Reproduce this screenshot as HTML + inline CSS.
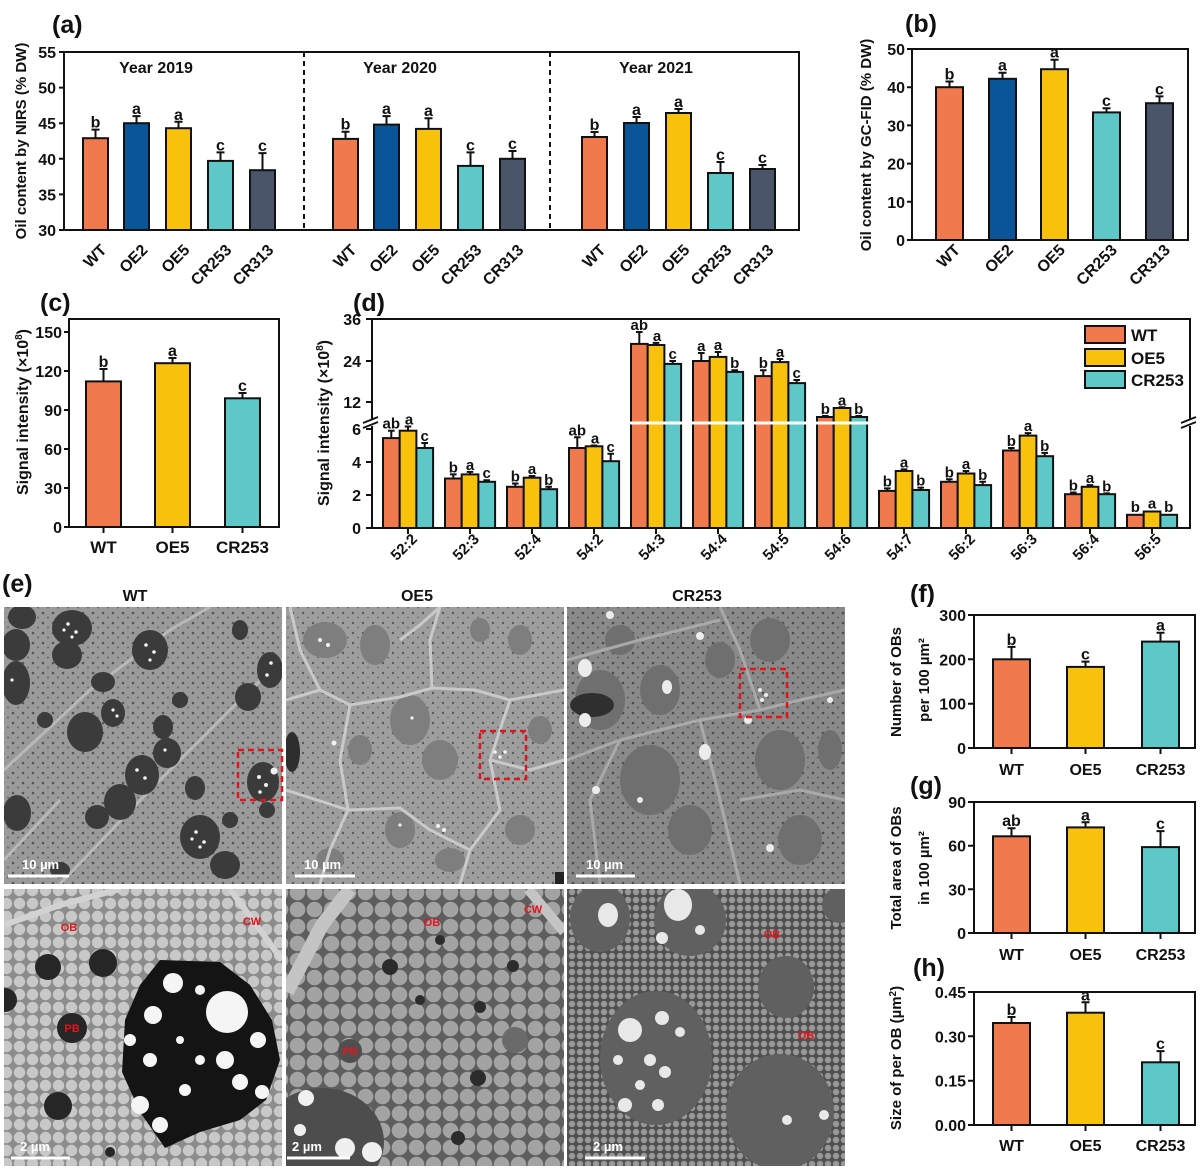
<!DOCTYPE html>
<html><head><meta charset="utf-8"><style>
html,body{margin:0;padding:0;background:#fff;}
svg{display:block;}
text{font-family:"Liberation Sans",Arial,sans-serif;font-weight:bold;fill:#111;}
.ax{fill:none;stroke:#111;stroke-width:2;}
.bar{stroke:#111;stroke-width:2;}
.eb{stroke:#111;stroke-width:2;fill:none;}
.wt{fill:#F07A4E}.oe2{fill:#0A5498}.oe5{fill:#F8C10C}.cr2{fill:#5EC8C8}.cr3{fill:#4A5569}
.rl{fill:#e3141c;font-size:11px;}
.sb{fill:#fff;font-size:13px;}
</style></head><body>
<svg width="1200" height="1169" viewBox="0 0 1200 1169" xmlns="http://www.w3.org/2000/svg">
<defs>
<clipPath id="k11"><rect x="4" y="607" width="278" height="277"/></clipPath>
<clipPath id="k12"><rect x="286" y="607" width="278" height="277"/></clipPath>
<clipPath id="k13"><rect x="567" y="607" width="278" height="277"/></clipPath>
<clipPath id="k21"><rect x="4" y="889" width="278" height="277"/></clipPath>
<clipPath id="k22"><rect x="286" y="889" width="278" height="277"/></clipPath>
<clipPath id="k23"><rect x="567" y="889" width="278" height="277"/></clipPath>
<pattern id="sp1" width="10" height="10" patternUnits="userSpaceOnUse"><rect width="10" height="10" fill="#9a9a9a"/><circle cx="3" cy="3" r="1.3" fill="#555"/><circle cx="8" cy="7.5" r="1" fill="#666"/></pattern>
<pattern id="sp2" width="10" height="10" patternUnits="userSpaceOnUse"><rect width="10" height="10" fill="#9e9e9e"/><circle cx="3" cy="3" r="1.2" fill="#5a5a5a"/><circle cx="8" cy="7.5" r="0.9" fill="#656565"/></pattern>
<pattern id="sp3" width="10" height="10" patternUnits="userSpaceOnUse"><rect width="10" height="10" fill="#8a8a8a"/><circle cx="3" cy="3" r="1.3" fill="#4c4c4c"/><circle cx="8" cy="7.5" r="1" fill="#5a5a5a"/></pattern>
<pattern id="pw" width="13" height="13" patternUnits="userSpaceOnUse"><rect width="13" height="13" fill="#8c8c8c"/><circle cx="6.5" cy="6.5" r="5.7" fill="#c8c8c8"/></pattern>
<pattern id="po" width="17" height="17" patternUnits="userSpaceOnUse"><rect width="17" height="17" fill="#5e5e5e"/><circle cx="8.5" cy="8.5" r="7.8" fill="#a3a3a3"/></pattern>
<pattern id="pc" width="8" height="8" patternUnits="userSpaceOnUse"><rect width="8" height="8" fill="#505050"/><circle cx="4" cy="4" r="3.2" fill="#989898"/></pattern>
</defs>

<!-- ================= (a) ================= -->
<text x="52" y="33" font-size="25">(a)</text>
<text transform="translate(26,141) rotate(-90)" text-anchor="middle" font-size="15">Oil content by NIRS (% DW)</text>
<path class="ax" d="M59,52H64M59,87.6H64M59,123.2H64M59,158.8H64M59,194.4H64M59,230H64"/>
<g font-size="16" text-anchor="end">
<text x="56" y="58">55</text><text x="56" y="93.6">50</text><text x="56" y="129.2">45</text>
<text x="56" y="164.8">40</text><text x="56" y="200.4">35</text><text x="56" y="236">30</text>
</g>
<path d="M304,52V230M550,52V230" stroke="#111" stroke-width="2" stroke-dasharray="5,4"/>
<g font-size="16" text-anchor="middle">
<text x="156" y="73">Year 2019</text><text x="400" y="73">Year 2020</text><text x="656" y="73">Year 2021</text>
</g>
<!-- G1 -->
<rect class="bar wt" x="83" y="138.2" width="25" height="91.8"/>
<rect class="bar oe2" x="124" y="123.2" width="25" height="106.8"/>
<rect class="bar oe5" x="166" y="128.2" width="25" height="101.8"/>
<rect class="bar cr2" x="208" y="160.9" width="25" height="69.1"/>
<rect class="bar cr3" x="250" y="170.2" width="25" height="59.8"/>
<path class="eb" d="M95.5,138.2V129.6M91.5,129.6H99.5M136.5,123.2V116.1M132.5,116.1H140.5M178.5,128.2V121.8M174.5,121.8H182.5M220.5,160.9V152.4M216.5,152.4H224.5M262.5,170.2V153.1M258.5,153.1H266.5"/>
<!-- G2 -->
<rect class="bar wt" x="333" y="138.9" width="25" height="91.1"/>
<rect class="bar oe2" x="374" y="124.6" width="25" height="105.4"/>
<rect class="bar oe5" x="416" y="128.9" width="25" height="101.1"/>
<rect class="bar cr2" x="458" y="165.9" width="25" height="64.1"/>
<rect class="bar cr3" x="500" y="158.8" width="25" height="71.2"/>
<path class="eb" d="M345.5,138.9V131.7M341.5,131.7H349.5M386.5,124.6V116.1M382.5,116.1H390.5M428.5,128.9V118.2M424.5,118.2H432.5M470.5,165.9V152.4M466.5,152.4H474.5M512.5,158.8V151M508.5,151H516.5"/>
<!-- G3 -->
<rect class="bar wt" x="582" y="137" width="25" height="93"/>
<rect class="bar oe2" x="624" y="123" width="25" height="107"/>
<rect class="bar oe5" x="666" y="113" width="25" height="117"/>
<rect class="bar cr2" x="708" y="173" width="25" height="57"/>
<rect class="bar cr3" x="750" y="169" width="25" height="61"/>
<path class="eb" d="M594.5,137V132M590.5,132H598.5M636.5,123V117M632.5,117H640.5M678.5,113V109M674.5,109H682.5M720.5,173V162M716.5,162H724.5M762.5,169V165M758.5,165H766.5"/>
<g font-size="16" text-anchor="middle">
<text x="95.5" y="127.6">b</text><text x="136.5" y="114.1">a</text><text x="178.5" y="119.8">a</text><text x="220.5" y="150.4">c</text><text x="262.5" y="151.1">c</text>
<text x="345.5" y="129.7">b</text><text x="386.5" y="114.1">a</text><text x="428.5" y="116.2">a</text><text x="470.5" y="150.4">c</text><text x="512.5" y="149">c</text>
<text x="594.5" y="130">b</text><text x="636.5" y="115">a</text><text x="678.5" y="107">a</text><text x="720.5" y="160">c</text><text x="762.5" y="163">c</text>
</g>
<rect class="ax" x="64" y="52" width="735" height="178"/>
<g font-size="16" text-anchor="end">
<text transform="translate(107.5,251) rotate(-45)">WT</text>
<text transform="translate(148.5,251) rotate(-45)">OE2</text>
<text transform="translate(190.5,251) rotate(-45)">OE5</text>
<text transform="translate(232.5,251) rotate(-45)">CR253</text>
<text transform="translate(274.5,251) rotate(-45)">CR313</text>
<text transform="translate(357.5,251) rotate(-45)">WT</text>
<text transform="translate(398.5,251) rotate(-45)">OE2</text>
<text transform="translate(440.5,251) rotate(-45)">OE5</text>
<text transform="translate(482.5,251) rotate(-45)">CR253</text>
<text transform="translate(524.5,251) rotate(-45)">CR313</text>
<text transform="translate(606.5,251) rotate(-45)">WT</text>
<text transform="translate(648.5,251) rotate(-45)">OE2</text>
<text transform="translate(690.5,251) rotate(-45)">OE5</text>
<text transform="translate(732.5,251) rotate(-45)">CR253</text>
<text transform="translate(774.5,251) rotate(-45)">CR313</text>
</g>

<!-- ================= (b) ================= -->
<text x="905" y="32" font-size="25">(b)</text>
<text transform="translate(871,145) rotate(-90)" text-anchor="middle" font-size="15">Oil content by GC-FID (% DW)</text>
<path class="ax" d="M907,49H912M907,87.2H912M907,125.4H912M907,163.6H912M907,201.8H912M907,240H912"/>
<g font-size="16" text-anchor="end">
<text x="905" y="55">50</text><text x="905" y="93.2">40</text><text x="905" y="131.4">30</text>
<text x="905" y="169.6">20</text><text x="905" y="207.8">10</text><text x="905" y="246">0</text>
</g>
<rect class="bar wt" x="936" y="87.2" width="27" height="152.8"/>
<rect class="bar oe2" x="989" y="78.8" width="27" height="161.2"/>
<rect class="bar oe5" x="1041" y="69.2" width="27" height="170.8"/>
<rect class="bar cr2" x="1093" y="112.4" width="27" height="127.6"/>
<rect class="bar cr3" x="1146" y="103.2" width="27" height="136.8"/>
<path class="eb" d="M949.5,87.2V81.5M945.5,81.5H953.5M1002.5,78.8V72.7M998.5,72.7H1006.5M1054.5,69.2V59.7M1050.5,59.7H1058.5M1106.5,112.4V108.2M1102.5,108.2H1110.5M1159.5,103.2V96.4M1155.5,96.4H1163.5"/>
<g font-size="16" text-anchor="middle">
<text x="949.5" y="79.5">b</text><text x="1002.5" y="70.7">a</text><text x="1054.5" y="57.7">a</text><text x="1106.5" y="106.2">c</text><text x="1159.5" y="94.4">c</text>
</g>
<rect class="ax" x="912" y="49" width="276" height="191"/>
<g font-size="16" text-anchor="end">
<text transform="translate(961,251) rotate(-45)">WT</text>
<text transform="translate(1014,251) rotate(-45)">OE2</text>
<text transform="translate(1066,251) rotate(-45)">OE5</text>
<text transform="translate(1118,251) rotate(-45)">CR253</text>
<text transform="translate(1171,251) rotate(-45)">CR313</text>
</g>

<!-- ================= (c) ================= -->
<text x="40" y="311" font-size="25">(c)</text>
<text transform="translate(28,412) rotate(-90)" text-anchor="middle" font-size="16">Signal intensity (×10<tspan dy="-6" font-size="10">8</tspan><tspan dy="6">)</tspan></text>
<path class="ax" d="M64,332H69M64,371H69M64,410H69M64,449H69M64,488H69M64,527H69M103.5,527V533M172.5,527V533M242.5,527V533"/>
<g font-size="16" text-anchor="end">
<text x="62" y="338">150</text><text x="62" y="377">120</text><text x="62" y="416">90</text>
<text x="62" y="455">60</text><text x="62" y="494">30</text><text x="62" y="533">0</text>
</g>
<rect class="bar wt" x="86" y="381.4" width="35" height="145.6"/>
<rect class="bar oe5" x="155" y="363.2" width="35" height="163.8"/>
<rect class="bar cr2" x="225" y="398.3" width="35" height="128.7"/>
<path class="eb" d="M103.5,381.4V369M99.5,369H107.5M172.5,363.2V358M168.5,358H176.5M242.5,398.3V393M238.5,393H246.5"/>
<g font-size="16" text-anchor="middle">
<text x="103.5" y="367">b</text><text x="172.5" y="356">a</text><text x="242.5" y="391">c</text>
</g>
<rect class="ax" x="69" y="319" width="210" height="208"/>
<g font-size="17" text-anchor="middle">
<text x="103.5" y="553">WT</text><text x="172.5" y="553">OE5</text><text x="242.5" y="553">CR253</text>
</g>

<!-- ================= (d) ================= -->
<text x="353" y="311" font-size="25">(d)</text>
<text transform="translate(329,423) rotate(-90)" text-anchor="middle" font-size="16">Signal intensity (×10<tspan dy="-6" font-size="10">8</tspan><tspan dy="6">)</tspan></text>
<path class="ax" d="M366,319H372M366,361H372M366,402H372M366,429H372M366,462H372M366,495H372M366,528H372"/>
<g font-size="16" text-anchor="end">
<text x="361" y="325">36</text><text x="361" y="367">24</text><text x="361" y="408">12</text>
<text x="361" y="435">6</text><text x="361" y="468">4</text><text x="361" y="501">2</text><text x="361" y="534">0</text>
</g>
<g class="bar">
<rect class="wt" x="383" y="438.1" width="16.7" height="89.9"/><rect class="oe5" x="399.7" y="430.7" width="16.7" height="97.3"/><rect class="cr2" x="416.4" y="448" width="16.7" height="80"/>
<rect class="wt" x="445" y="478.5" width="16.7" height="49.5"/><rect class="oe5" x="461.7" y="474.4" width="16.7" height="53.6"/><rect class="cr2" x="478.4" y="481.8" width="16.7" height="46.2"/>
<rect class="wt" x="507" y="486.8" width="16.7" height="41.2"/><rect class="oe5" x="523.7" y="477.7" width="16.7" height="50.3"/><rect class="cr2" x="540.4" y="489.2" width="16.7" height="38.8"/>
<rect class="wt" x="569" y="448" width="16.7" height="80"/><rect class="oe5" x="585.7" y="446.3" width="16.7" height="81.7"/><rect class="cr2" x="602.4" y="461.2" width="16.7" height="66.8"/>
<rect class="wt" x="631" y="343.9" width="16.7" height="184.1"/><rect class="oe5" x="647.7" y="345" width="16.7" height="183"/><rect class="cr2" x="664.4" y="363.9" width="16.7" height="164.1"/>
<rect class="wt" x="693" y="361" width="16.7" height="167"/><rect class="oe5" x="709.7" y="356.9" width="16.7" height="171.1"/><rect class="cr2" x="726.4" y="371.9" width="16.7" height="156.1"/>
<rect class="wt" x="755" y="376.1" width="16.7" height="151.9"/><rect class="oe5" x="771.7" y="362.1" width="16.7" height="165.9"/><rect class="cr2" x="788.4" y="383.1" width="16.7" height="144.9"/>
<rect class="wt" x="817" y="417" width="16.7" height="111"/><rect class="oe5" x="833.7" y="408" width="16.7" height="120"/><rect class="cr2" x="850.4" y="417" width="16.7" height="111"/>
<rect class="wt" x="879" y="490.9" width="16.7" height="37.1"/><rect class="oe5" x="895.7" y="471" width="16.7" height="57"/><rect class="cr2" x="912.4" y="490" width="16.7" height="38"/>
<rect class="wt" x="941" y="481.8" width="16.7" height="46.2"/><rect class="oe5" x="957.7" y="473.5" width="16.7" height="54.5"/><rect class="cr2" x="974.4" y="485.1" width="16.7" height="42.9"/>
<rect class="wt" x="1003" y="450.5" width="16.7" height="77.5"/><rect class="oe5" x="1019.7" y="435.6" width="16.7" height="92.4"/><rect class="cr2" x="1036.4" y="456.2" width="16.7" height="71.8"/>
<rect class="wt" x="1065" y="494.2" width="16.7" height="33.8"/><rect class="oe5" x="1081.7" y="486.8" width="16.7" height="41.2"/><rect class="cr2" x="1098.4" y="494.2" width="16.7" height="33.8"/>
<rect class="wt" x="1127" y="514.8" width="16.7" height="13.2"/><rect class="oe5" x="1143.7" y="511.5" width="16.7" height="16.5"/><rect class="cr2" x="1160.4" y="514.8" width="16.7" height="13.2"/>
</g>
<path class="eb" d="
M391.3,438.1V430.7M388,430.7H394.6M408,430.7V426.5M404.7,426.5H411.3M424.7,448V443M421.4,443H428
M453.3,478.5V474.4M450,474.4H456.6M470,474.4V471.9M466.7,471.9H473.3M486.7,481.8V480.2M483.4,480.2H490
M515.3,486.8V483.5M512,483.5H518.6M532,477.7V476M528.7,476H535.3M548.7,489.2V486.8M545.4,486.8H552
M577.3,448V437.3M574,437.3H580.6M594,446.3V445.5M590.7,445.5H597.3M610.7,461.2V453.8M607.4,453.8H614
M639.3,343.9V332M636,332H642.6M656,345V342.9M652.7,342.9H659.3M672.7,363.9V361M669.4,361H676
M701.3,361V353M698,353H704.6M718,356.9V352M714.7,352H721.3M734.7,371.9V370.2M731.4,370.2H738
M763.3,376.1V370.2M760,370.2H766.6M780,362.1V359M776.7,359H783.3M796.7,383.1V380M793.4,380H800
M825.3,417V416M822,416H828.6M842,408V407.3M838.7,407.3H845.3M858.7,417V416M855.4,416H862
M887.3,490.9V488.4M884,488.4H890.6M904,471V469.4M900.7,469.4H907.3M920.7,490V487.6M917.4,487.6H924
M949.3,481.8V479.3M946,479.3H952.6M966,473.5V471M962.7,471H969.3M982.7,485.1V481.8M979.4,481.8H986
M1011.3,450.5V448M1008,448H1014.6M1028,435.6V433.1M1024.7,433.1H1031.3M1044.7,456.2V452.9M1041.4,452.9H1048
M1073.3,494.2V492.5M1070,492.5H1076.6M1090,486.8V485.1M1086.7,485.1H1093.3M1106.7,494.2V493.4M1103.4,493.4H1110
"/>
<line x1="373" y1="423" x2="1189" y2="423" stroke="#fff" stroke-width="3"/>
<g font-size="15" text-anchor="middle">
<text x="391.3" y="428.7">ab</text><text x="409" y="424.5">a</text><text x="424.7" y="441">c</text>
<text x="453.3" y="472.4">b</text><text x="470" y="469.9">a</text><text x="486.7" y="478.2">c</text>
<text x="515.3" y="481.5">b</text><text x="532" y="474">a</text><text x="548.7" y="484.8">b</text>
<text x="577.3" y="435.3">ab</text><text x="595" y="443.5">a</text><text x="610.7" y="451.8">c</text>
<text x="639.3" y="330">ab</text><text x="657" y="340.9">a</text><text x="672.7" y="359">c</text>
<text x="701.3" y="351">a</text><text x="718" y="350">a</text><text x="734.7" y="368.2">b</text>
<text x="763.3" y="368.2">b</text><text x="780" y="357">a</text><text x="796.7" y="378">c</text>
<text x="825.3" y="414">b</text><text x="842" y="405.3">a</text><text x="858.7" y="414">b</text>
<text x="887.3" y="486.4">b</text><text x="904" y="467.4">a</text><text x="920.7" y="485.6">b</text>
<text x="949.3" y="477.3">b</text><text x="966" y="469">a</text><text x="982.7" y="479.8">b</text>
<text x="1011.3" y="446">b</text><text x="1028" y="431.1">a</text><text x="1044.7" y="450.9">b</text>
<text x="1073.3" y="490.5">b</text><text x="1090" y="483.1">a</text><text x="1106.7" y="491.4">b</text>
<text x="1135.3" y="512">b</text><text x="1152" y="508.7">a</text><text x="1168.7" y="512">b</text>
</g>
<rect class="ax" x="372" y="319" width="818" height="209"/>
<path class="ax" d="M408,528V534M470,528V534M532,528V534M594,528V534M656,528V534M718,528V534M780,528V534M842,528V534M904,528V534M966,528V534M1028,528V534M1090,528V534M1152,528V534"/>
<rect x="367" y="419" width="10" height="7" fill="#fff"/>
<path d="M363,423L378,417M363,428L378,422" stroke="#111" stroke-width="1.8"/>
<rect x="1185" y="419" width="10" height="7" fill="#fff"/>
<path d="M1181,423L1196,417M1181,428L1196,422" stroke="#111" stroke-width="1.8"/>
<rect class="bar wt" x="1085" y="326" width="40" height="17"/>
<rect class="bar oe5" x="1085" y="349" width="40" height="17"/>
<rect class="bar cr2" x="1085" y="371" width="40" height="17"/>
<g font-size="17"><text x="1131" y="341">WT</text><text x="1131" y="364">OE5</text><text x="1131" y="386">CR253</text></g>
<g font-size="15" text-anchor="end">
<text transform="translate(418,540) rotate(-45)">52:2</text>
<text transform="translate(480,540) rotate(-45)">52:3</text>
<text transform="translate(542,540) rotate(-45)">52:4</text>
<text transform="translate(604,540) rotate(-45)">54:2</text>
<text transform="translate(666,540) rotate(-45)">54:3</text>
<text transform="translate(728,540) rotate(-45)">54:4</text>
<text transform="translate(790,540) rotate(-45)">54:5</text>
<text transform="translate(852,540) rotate(-45)">54:6</text>
<text transform="translate(914,540) rotate(-45)">54:7</text>
<text transform="translate(976,540) rotate(-45)">56:2</text>
<text transform="translate(1038,540) rotate(-45)">56:3</text>
<text transform="translate(1100,540) rotate(-45)">56:4</text>
<text transform="translate(1162,540) rotate(-45)">56:5</text>
</g>

<!-- ================= (e) ================= -->
<text x="2" y="592" font-size="25">(e)</text>
<g font-size="16" text-anchor="middle"><text x="135" y="601">WT</text><text x="417" y="601">OE5</text><text x="697" y="601">CR253</text></g>

<g clip-path="url(#k11)">
<rect x="4" y="607" width="278" height="277" fill="url(#sp1)"/>
<path d="M4,770L90,690L170,630L210,607M60,884L150,790L240,700L282,660M4,860L60,800" stroke="#b8b8b8" stroke-width="3" fill="none"/>
<g fill="#3b3b3b">
<ellipse cx="22" cy="617" rx="14" ry="12"/><ellipse cx="72" cy="628" rx="20" ry="18"/><ellipse cx="16" cy="645" rx="14" ry="16"/>
<ellipse cx="67" cy="655" rx="15" ry="14"/><ellipse cx="150" cy="650" rx="18" ry="20"/><ellipse cx="16" cy="683" rx="14" ry="22"/>
<ellipse cx="103" cy="682" rx="12" ry="10"/><ellipse cx="113" cy="713" rx="12" ry="14"/><ellipse cx="85" cy="732" rx="18" ry="20"/>
<ellipse cx="163" cy="727" rx="10" ry="12"/><ellipse cx="142" cy="775" rx="17" ry="20"/><ellipse cx="167" cy="753" rx="14" ry="15"/>
<ellipse cx="120" cy="802" rx="16" ry="18"/><ellipse cx="97" cy="817" rx="12" ry="12"/><ellipse cx="200" cy="837" rx="20" ry="22"/>
<ellipse cx="225" cy="865" rx="15" ry="14"/><ellipse cx="263" cy="782" rx="16" ry="20"/><ellipse cx="270" cy="670" rx="13" ry="18"/>
<ellipse cx="248" cy="697" rx="13" ry="14"/><ellipse cx="17" cy="813" rx="14" ry="18"/><ellipse cx="267" cy="810" rx="8" ry="8"/>
<ellipse cx="195" cy="788" rx="10" ry="12"/><ellipse cx="180" cy="700" rx="8" ry="8"/><ellipse cx="45" cy="720" rx="8" ry="8"/>
<ellipse cx="240" cy="630" rx="8" ry="10"/><ellipse cx="60" cy="870" rx="10" ry="8"/><ellipse cx="230" cy="820" rx="8" ry="8"/>
</g>
<g fill="#f2f2f2">
<circle cx="68" cy="624" r="1.8"/><circle cx="76" cy="632" r="1.8"/><circle cx="72" cy="637" r="1.6"/><circle cx="64" cy="630" r="1.6"/>
<circle cx="146" cy="645" r="1.8"/><circle cx="154" cy="652" r="1.8"/><circle cx="150" cy="660" r="1.6"/>
<circle cx="113" cy="710" r="1.6"/><circle cx="117" cy="716" r="1.6"/><circle cx="137" cy="770" r="1.8"/><circle cx="145" cy="778" r="1.8"/>
<circle cx="196" cy="832" r="1.8"/><circle cx="204" cy="842" r="1.8"/><circle cx="200" cy="847" r="1.6"/><circle cx="192" cy="839" r="1.6"/>
<circle cx="259" cy="777" r="2"/><circle cx="266" cy="785" r="2"/><circle cx="274" cy="771" r="3.5"/><circle cx="260" cy="792" r="1.8"/>
<circle cx="271" cy="663" r="1.8"/><circle cx="267" cy="675" r="1.8"/><circle cx="165" cy="750" r="1.6"/><circle cx="12" cy="680" r="1.6"/>
</g>
</g>
<g clip-path="url(#k12)">
<rect x="286" y="607" width="278" height="277" fill="url(#sp2)"/>
<g fill="#7e7e7e">
<ellipse cx="325" cy="640" rx="22" ry="18"/><ellipse cx="375" cy="645" rx="15" ry="20"/><ellipse cx="410" cy="720" rx="20" ry="25"/>
<ellipse cx="360" cy="750" rx="12" ry="15"/><ellipse cx="440" cy="760" rx="18" ry="20"/><ellipse cx="400" cy="830" rx="15" ry="18"/>
<ellipse cx="450" cy="860" rx="15" ry="12"/><ellipse cx="520" cy="640" rx="12" ry="15"/><ellipse cx="540" cy="730" rx="12" ry="14"/>
<ellipse cx="330" cy="860" rx="14" ry="12"/><ellipse cx="520" cy="830" rx="15" ry="15"/><ellipse cx="480" cy="630" rx="10" ry="12"/>
</g>
<path d="M286,700L320,690L350,705L400,697L432,688L475,690L510,700L564,690M350,705L340,760L348,810L330,850L320,884M432,688L430,640L440,607M510,700L490,760L500,810L470,850L460,884M348,810L400,808L430,830L470,850M490,760L530,770L564,760M320,690L300,650L290,607M286,790L348,810M440,607L420,625L400,640" stroke="#c9c9c9" stroke-width="3" fill="none"/>
<ellipse cx="292" cy="752" rx="8" ry="20" fill="#2e2e2e"/>
<rect x="555" y="872" width="10" height="12" fill="#222"/>
<g fill="#f2f2f2">
<circle cx="320" cy="640" r="2"/><circle cx="328" cy="645" r="2"/><circle cx="412" cy="718" r="1.6"/><circle cx="495" cy="752" r="1.8"/>
<circle cx="500" cy="757" r="1.8"/><circle cx="505" cy="752" r="1.8"/><circle cx="438" cy="826" r="2"/><circle cx="444" cy="830" r="2"/>
<circle cx="334" cy="743" r="2.5"/><circle cx="400" cy="825" r="1.6"/>
</g>
</g>
<g clip-path="url(#k13)">
<rect x="567" y="607" width="278" height="277" fill="url(#sp3)"/>
<g fill="#6f6f6f">
<ellipse cx="600" cy="700" rx="25" ry="30"/><ellipse cx="660" cy="690" rx="20" ry="25"/><ellipse cx="650" cy="780" rx="30" ry="35"/>
<ellipse cx="690" cy="830" rx="22" ry="25"/><ellipse cx="780" cy="760" rx="25" ry="30"/><ellipse cx="800" cy="840" rx="22" ry="25"/>
<ellipse cx="770" cy="640" rx="20" ry="22"/><ellipse cx="620" cy="640" rx="15" ry="15"/><ellipse cx="720" cy="660" rx="15" ry="18"/>
<ellipse cx="830" cy="750" rx="12" ry="20"/>
</g>
<path d="M567,760L620,740L700,720L760,710L800,700L845,690M700,720L720,800L740,884M760,710L740,650L720,607M620,740L590,800L600,884M567,660L640,640L720,620M740,800L800,790L845,800" stroke="#a9a9a9" stroke-width="3" fill="none"/>
<ellipse cx="592" cy="705" rx="22" ry="12" fill="#2f2f2f"/>
<g fill="#ececec">
<ellipse cx="585" cy="668" rx="7" ry="9"/><ellipse cx="585" cy="720" rx="6" ry="7"/><ellipse cx="667" cy="687" rx="5" ry="7"/>
<ellipse cx="705" cy="752" rx="6" ry="8"/><circle cx="748" cy="720" r="4"/><circle cx="596" cy="790" r="4"/><circle cx="640" cy="800" r="3"/>
<circle cx="770" cy="848" r="4"/><circle cx="830" cy="700" r="3"/><circle cx="610" cy="615" r="4"/><circle cx="700" cy="636" r="4"/>
<circle cx="760" cy="690" r="2"/><circle cx="766" cy="695" r="2"/><circle cx="762" cy="700" r="2"/>
</g>
</g>
<g clip-path="url(#k21)">
<rect x="4" y="889" width="278" height="277" fill="url(#pw)"/>
<path d="M4,925L60,905L120,889M230,889L260,930L282,960" stroke="#d2d2d2" stroke-width="6" fill="none"/>
<g fill="#262626">
<circle cx="48" cy="967" r="13"/><circle cx="103" cy="963" r="14"/><circle cx="72" cy="1028" r="15"/>
<circle cx="58" cy="1106" r="14"/><circle cx="5" cy="1000" r="12"/><circle cx="110" cy="1152" r="5"/>
</g>
<path d="M160,960L220,962L250,985L272,1020L280,1060L266,1100L240,1120L200,1132L165,1148L140,1112L122,1072L125,1020L140,985Z" fill="#141414"/>
<g fill="#f5f5f5">
<circle cx="227" cy="1012" r="21"/><circle cx="173" cy="983" r="10"/><circle cx="153" cy="1015" r="9"/><circle cx="130" cy="1040" r="6"/>
<circle cx="150" cy="1060" r="7"/><circle cx="225" cy="1060" r="9"/><circle cx="240" cy="1082" r="8"/><circle cx="185" cy="1090" r="6"/>
<circle cx="140" cy="1105" r="9"/><circle cx="160" cy="1125" r="8"/><circle cx="200" cy="1060" r="5"/><circle cx="258" cy="1040" r="8"/>
<circle cx="262" cy="1092" r="7"/><circle cx="200" cy="990" r="5"/><circle cx="180" cy="1040" r="4"/>
</g>
<text class="rl" x="69" y="931" text-anchor="middle">OB</text>
<text class="rl" x="252" y="925" text-anchor="middle">CW</text>
<text class="rl" x="72" y="1032" text-anchor="middle">PB</text>
</g>
<g clip-path="url(#k22)">
<rect x="286" y="889" width="278" height="277" fill="url(#po)"/>
<path d="M287,992L322,925L350,889" stroke="#c4c4c4" stroke-width="14" fill="none"/>
<path d="M528,889L564,932" stroke="#c4c4c4" stroke-width="10" fill="none"/>
<ellipse cx="322" cy="1142" rx="62" ry="54" fill="#4d4d4d"/>
<g fill="#f0f0f0"><circle cx="306" cy="1098" r="8"/><circle cx="300" cy="1130" r="6"/><circle cx="345" cy="1148" r="10"/><circle cx="372" cy="1152" r="10"/></g>
<g fill="#2c2c2c"><circle cx="390" cy="967" r="8"/><circle cx="513" cy="966" r="6"/><circle cx="480" cy="1007" r="6"/><circle cx="478" cy="1078" r="8"/><circle cx="458" cy="1138" r="7"/><circle cx="420" cy="1000" r="5"/><circle cx="440" cy="940" r="5"/></g>
<circle cx="350" cy="1051" r="12" fill="#4f4f4f"/>
<circle cx="515" cy="1040" r="13" fill="#6a6a6a"/>
<text class="rl" x="432" y="926" text-anchor="middle">OB</text>
<text class="rl" x="533" y="913" text-anchor="middle">CW</text>
<text class="rl" x="350" y="1055" text-anchor="middle">PB</text>
</g>
<g clip-path="url(#k23)">
<rect x="567" y="889" width="278" height="277" fill="url(#pc)"/>
<g fill="#606060">
<ellipse cx="600" cy="918" rx="30" ry="34"/><ellipse cx="690" cy="920" rx="36" ry="36"/><ellipse cx="786" cy="987" rx="28" ry="31"/>
<ellipse cx="656" cy="1058" rx="56" ry="67"/><ellipse cx="780" cy="1112" rx="54" ry="58"/><ellipse cx="840" cy="905" rx="18" ry="18"/>
</g>
<g fill="#e8e8e8">
<ellipse cx="608" cy="915" rx="10" ry="12"/><ellipse cx="678" cy="905" rx="14" ry="16"/><circle cx="662" cy="938" r="6"/><circle cx="700" cy="930" r="5"/>
<circle cx="630" cy="1030" r="12"/><circle cx="662" cy="1018" r="7"/><circle cx="680" cy="1032" r="5"/><circle cx="650" cy="1060" r="6"/>
<circle cx="640" cy="1085" r="5"/><circle cx="665" cy="1072" r="6"/><circle cx="625" cy="1105" r="7"/><circle cx="658" cy="1105" r="6"/>
<circle cx="787" cy="1120" r="5"/><circle cx="824" cy="1115" r="5"/><circle cx="618" cy="1060" r="5"/>
</g>
<text class="rl" x="772" y="938" text-anchor="middle">OB</text>
<text class="rl" x="806" y="1039" text-anchor="middle">OB</text>
</g>
<g fill="none" stroke="#e3141c" stroke-width="2.5" stroke-dasharray="6,4">
<rect x="238" y="750" width="44" height="50"/><rect x="480" y="731" width="46" height="48"/><rect x="740" y="669" width="47" height="48"/>
</g>
<path d="M8,876H69M295,876H355M576,876H635M11,1158H70M287,1158H350M585,1158H645" stroke="#fff" stroke-width="3"/>
<text class="sb" x="22" y="869">10 µm</text><text class="sb" x="304" y="869">10 µm</text><text class="sb" x="586" y="869">10 µm</text>
<text class="sb" x="20" y="1151">2 µm</text><text class="sb" x="292" y="1151">2 µm</text><text class="sb" x="593" y="1151">2 µm</text>

<!-- ================= (f) ================= -->
<text x="910" y="602" font-size="25">(f)</text>
<text transform="translate(901,682) rotate(-90)" text-anchor="middle" font-size="15">Number of OBs</text>
<text transform="translate(929,680) rotate(-90)" text-anchor="middle" font-size="15">per 100 µm²</text>
<path class="ax" d="M968,615H974M968,659.3H974M968,703.7H974M968,748H974M1011.5,748V754M1085.5,748V754M1160.5,748V754"/>
<g font-size="16" text-anchor="end"><text x="966" y="621">300</text><text x="966" y="665.3">200</text><text x="966" y="709.7">100</text><text x="966" y="754">0</text></g>
<rect class="bar wt" x="993" y="659.3" width="37" height="88.7"/>
<rect class="bar oe5" x="1067" y="666.9" width="37" height="81.1"/>
<rect class="bar cr2" x="1142" y="641.6" width="37" height="106.4"/>
<path class="eb" d="M1011.5,659.3V646.9M1007.5,646.9H1015.5M1085.5,666.9V661.6M1081.5,661.6H1089.5M1160.5,641.6V632.7M1156.5,632.7H1164.5"/>
<g font-size="16" text-anchor="middle"><text x="1011.5" y="644.9">b</text><text x="1085.5" y="659.6">c</text><text x="1160.5" y="630.7">a</text></g>
<rect class="ax" x="974" y="615" width="221" height="133"/>
<g font-size="16" text-anchor="middle"><text x="1011.5" y="775">WT</text><text x="1085.5" y="775">OE5</text><text x="1160.5" y="775">CR253</text></g>

<!-- ================= (g) ================= -->
<text x="910" y="794" font-size="25">(g)</text>
<text transform="translate(901,868) rotate(-90)" text-anchor="middle" font-size="15">Total area of OBs</text>
<text transform="translate(929,868) rotate(-90)" text-anchor="middle" font-size="15">in 100 µm²</text>
<path class="ax" d="M968,802H974M968,845.7H974M968,889.3H974M968,933H974M1011.5,933V939M1085.5,933V939M1160.5,933V939"/>
<g font-size="16" text-anchor="end"><text x="966" y="808">90</text><text x="966" y="851.7">60</text><text x="966" y="895.3">30</text><text x="966" y="939">0</text></g>
<rect class="bar wt" x="993" y="836.3" width="37" height="96.7"/>
<rect class="bar oe5" x="1067" y="827.4" width="37" height="105.6"/>
<rect class="bar cr2" x="1142" y="847.1" width="37" height="85.9"/>
<path class="eb" d="M1011.5,836.3V828.2M1007.5,828.2H1015.5M1085.5,827.4V822.3M1081.5,822.3H1089.5M1160.5,847.1V831.1M1156.5,831.1H1164.5"/>
<g font-size="16" text-anchor="middle"><text x="1011.5" y="826.2">ab</text><text x="1085.5" y="820.3">a</text><text x="1160.5" y="829.1">c</text></g>
<rect class="ax" x="974" y="802" width="221" height="131"/>
<g font-size="16" text-anchor="middle"><text x="1011.5" y="960">WT</text><text x="1085.5" y="960">OE5</text><text x="1160.5" y="960">CR253</text></g>

<!-- ================= (h) ================= -->
<text x="913" y="976" font-size="25">(h)</text>
<text transform="translate(901,1058) rotate(-90)" text-anchor="middle" font-size="15">Size of per OB (µm<tspan dy="-5" font-size="10">2</tspan><tspan dy="5">)</tspan></text>
<path class="ax" d="M968,992H974M968,1036.3H974M968,1080.7H974M968,1125H974M1011.5,1125V1131M1085.5,1125V1131M1160.5,1125V1131"/>
<g font-size="16" text-anchor="end"><text x="966" y="998">0.45</text><text x="966" y="1042.3">0.30</text><text x="966" y="1086.7">0.15</text><text x="966" y="1131">0.00</text></g>
<rect class="bar wt" x="993" y="1023" width="37" height="102"/>
<rect class="bar oe5" x="1067" y="1012.7" width="37" height="112.3"/>
<rect class="bar cr2" x="1142" y="1062.3" width="37" height="62.7"/>
<path class="eb" d="M1011.5,1023V1017M1007.5,1017H1015.5M1085.5,1012.7V1002.3M1081.5,1002.3H1089.5M1160.5,1062.3V1051.1M1156.5,1051.1H1164.5"/>
<g font-size="16" text-anchor="middle"><text x="1011.5" y="1015">b</text><text x="1085.5" y="1000.3">a</text><text x="1160.5" y="1049.1">c</text></g>
<rect class="ax" x="974" y="992" width="221" height="133"/>
<g font-size="16" text-anchor="middle"><text x="1011.5" y="1151">WT</text><text x="1085.5" y="1151">OE5</text><text x="1160.5" y="1151">CR253</text></g>
</svg>
</body></html>
